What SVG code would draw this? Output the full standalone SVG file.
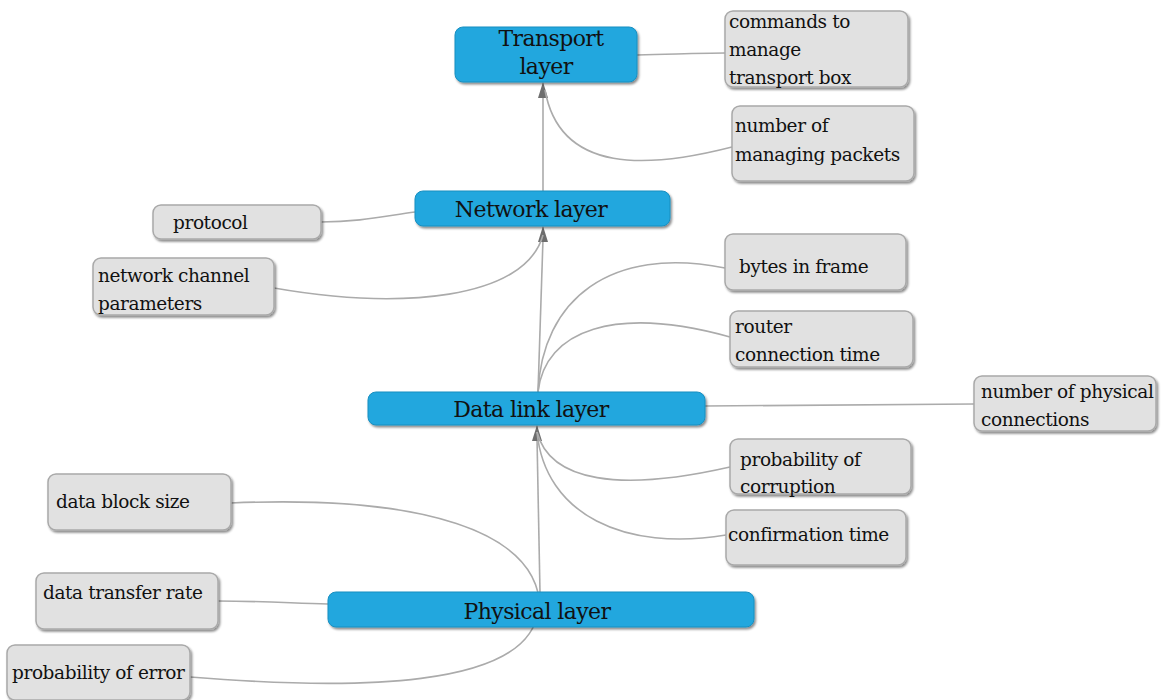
<svg xmlns="http://www.w3.org/2000/svg" width="1163" height="700" viewBox="0 0 1163 700">
<style>
.c{fill:none;stroke:#ababab;stroke-width:1.6}
.a{fill:#6e6e6e;stroke:none}
.b{fill:#20a7de;stroke:#1a8fc0;stroke-width:1}
.g{fill:#e1e1e1;stroke:#a9a9a9;stroke-width:1.5}
text{font-family:"DejaVu Serif","Liberation Serif",serif;fill:#111}
.bt{font-size:22px;letter-spacing:-0.6px}
.gt{font-size:18.5px;letter-spacing:-0.4px}
</style>
<defs>
<filter id="sh" x="-10%" y="-10%" width="130%" height="140%">
<feDropShadow dx="1.5" dy="2" stdDeviation="1.2" flood-color="#000" flood-opacity="0.45"/>
</filter>
</defs>
<rect width="1163" height="700" fill="#fff"/>
<g id="connectors">
<path class="c" d="M543,191 L543,95"/>
<path class="a" d="M543,82 L538,98 L548,98 z"/>
<path class="c" d="M538,392 L543,239"/>
<path class="a" d="M543,226 L538,242 L548,242 z"/>
<path class="c" d="M540,592 L537,438"/>
<path class="a" d="M537,425 L532,441 L542,441 z"/>
<path class="c" d="M637,55 C680,54 700,53 725,53"/>
<path class="c" d="M732,147 C650,168 560,175 545,90"/>
<path class="c" d="M321,222 C360,222 385,216 415,212"/>
<path class="c" d="M274,288 C400,310 525,300 543,235"/>
<path class="c" d="M538,392 C542,300 610,245 725,268"/>
<path class="c" d="M538,392 C545,330 615,305 730,337"/>
<path class="c" d="M705,406 L974,404"/>
<path class="c" d="M537,432 C550,482 620,492 730,467"/>
<path class="c" d="M537,432 C545,515 625,552 726,535"/>
<path class="c" d="M231,503 C420,495 540,530 540,610"/>
<path class="c" d="M190,677 C350,690 530,690 538,610"/>
<path class="c" d="M218,601 C260,601 290,603 328,604"/>
</g>
<g id="transport">
<rect class="b" x="455" y="27" width="182" height="55" rx="8" filter="url(#sh)"/>
<text class="bt" x="551" y="46" text-anchor="middle" font-family="DejaVu Serif, serif">Transport</text>
<text class="bt" x="546" y="74" text-anchor="middle" font-family="DejaVu Serif, serif">layer</text>
</g>
<g id="network">
<rect class="b" x="415" y="191" width="255" height="35" rx="8" filter="url(#sh)"/>
<text class="bt" x="531" y="217" text-anchor="middle" font-family="DejaVu Serif, serif">Network layer</text>
</g>
<g id="datalink">
<rect class="b" x="368" y="392" width="337" height="33" rx="8" filter="url(#sh)"/>
<text class="bt" x="531" y="417" text-anchor="middle" font-family="DejaVu Serif, serif">Data link layer</text>
</g>
<g id="physical">
<rect class="b" x="328" y="592" width="426" height="35" rx="8" filter="url(#sh)"/>
<text class="bt" x="537" y="619" text-anchor="middle" font-family="DejaVu Serif, serif">Physical layer</text>
</g>
<g id="commands">
<rect class="g" x="725" y="11" width="183" height="76" rx="8" filter="url(#sh)"/>
<text class="gt" x="729" y="28">commands to</text>
<text class="gt" x="729" y="56">manage</text>
<text class="gt" x="729" y="84">transport box</text>
</g>
<g id="packets">
<rect class="g" x="732" y="106" width="182" height="75" rx="8" filter="url(#sh)"/>
<text class="gt" x="735" y="132">number of</text>
<text class="gt" x="735" y="161">managing packets</text>
</g>
<g id="protocol">
<rect class="g" x="153" y="205" width="168" height="34" rx="8" filter="url(#sh)"/>
<text class="gt" x="173" y="229">protocol</text>
</g>
<g id="channel">
<rect class="g" x="93" y="258" width="181" height="57" rx="8" filter="url(#sh)"/>
<text class="gt" x="98" y="282">network channel</text>
<text class="gt" x="98" y="310">parameters</text>
</g>
<g id="bytes">
<rect class="g" x="725" y="234" width="181" height="56" rx="8" filter="url(#sh)"/>
<text class="gt" x="739" y="273">bytes in frame</text>
</g>
<g id="router">
<rect class="g" x="730" y="311" width="183" height="56" rx="8" filter="url(#sh)"/>
<text class="gt" x="735" y="333">router</text>
<text class="gt" x="735" y="361">connection time</text>
</g>
<g id="physconn">
<rect class="g" x="974" y="376" width="182" height="55" rx="8" filter="url(#sh)"/>
<text class="gt" x="981" y="398">number of physical</text>
<text class="gt" x="981" y="426">connections</text>
</g>
<g id="corruption">
<rect class="g" x="730" y="439" width="181" height="55" rx="8" filter="url(#sh)"/>
<text class="gt" x="740" y="466">probability of</text>
<text class="gt" x="740" y="493">corruption</text>
</g>
<g id="confirmation">
<rect class="g" x="726" y="510" width="180" height="55" rx="8" filter="url(#sh)"/>
<text class="gt" x="728" y="541">confirmation time</text>
</g>
<g id="blocksize">
<rect class="g" x="48" y="474" width="183" height="56" rx="8" filter="url(#sh)"/>
<text class="gt" x="56" y="508">data block size</text>
</g>
<g id="transferrate">
<rect class="g" x="36" y="573" width="182" height="56" rx="8" filter="url(#sh)"/>
<text class="gt" x="43" y="599">data transfer rate</text>
</g>
<g id="error">
<rect class="g" x="7" y="645" width="183" height="55" rx="8" filter="url(#sh)"/>
<text class="gt" x="12" y="679">probability of error</text>
</g>
</svg>
